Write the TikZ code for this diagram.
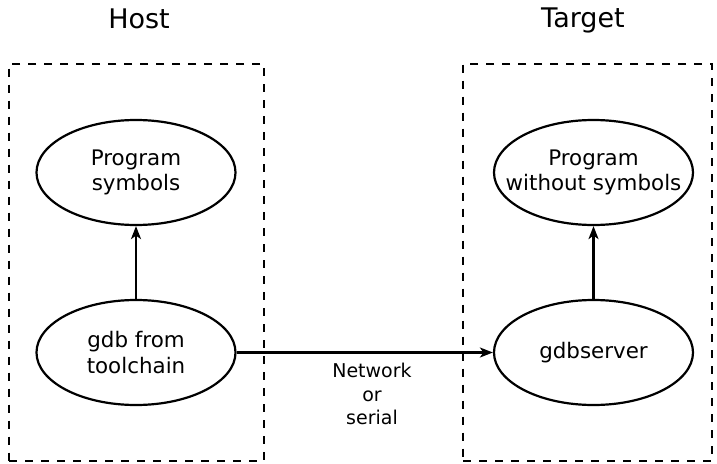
\documentclass[tikz,border=0pt]{standalone}
\usepackage{fontspec}
\setmainfont{DejaVu Sans}
\usetikzlibrary{shapes.geometric,arrows.meta}
\begin{document}
\begin{tikzpicture}[x=1pt,y=-1pt,
  ell/.style={draw, line width=2.2pt, ellipse, minimum width=199pt, minimum height=105pt, inner sep=0pt},
  elltext/.style={align=center, font=\fontsize{21.4}{25.7}\selectfont},
  region/.style={draw, line width=2pt, dash pattern=on 8pt off 8pt, rectangle, inner sep=0pt},
  title/.style={font=\fontsize{27}{32}\selectfont},
  conn/.style={line width=2.2pt, -{Stealth[length=13pt,width=10pt,inset=3.5pt]}},
  lbl/.style={align=center, font=\fontsize{19}{23.5}\selectfont}]
\useasboundingbox (0,0) rectangle (717,463);
\node[region, minimum width=255pt, minimum height=397pt] (hostbox) at (136.5,262) {};
\node[region, minimum width=249pt, minimum height=397pt] (targetbox) at (587.5,262) {};
\node[title] (host) at (139,19) {Host};
\node[title] (target) at (583,20) {Target};
\node[ell, label={[elltext]center:Program\\symbols}] (ps) at (136,172.5) {};
\node[ell, label={[elltext]center:gdb from\\toolchain}] (gdb) at (136,352.5) {};
\node[ell, label={[elltext]center:Program\\without symbols}] (pws) at (593.5,172.5) {};
\node[ell, label={[elltext]center:gdbserver}] (gs) at (593.5,352.5) {};
\node[lbl] (net) at (372,394) {Network\\or\\serial};
\draw[conn] (gdb.north) -- (ps.south);
\draw[conn] (gs.north) -- (pws.south);
\draw[conn] (gdb.east) -- (gs.west);
\end{tikzpicture}
\end{document}
